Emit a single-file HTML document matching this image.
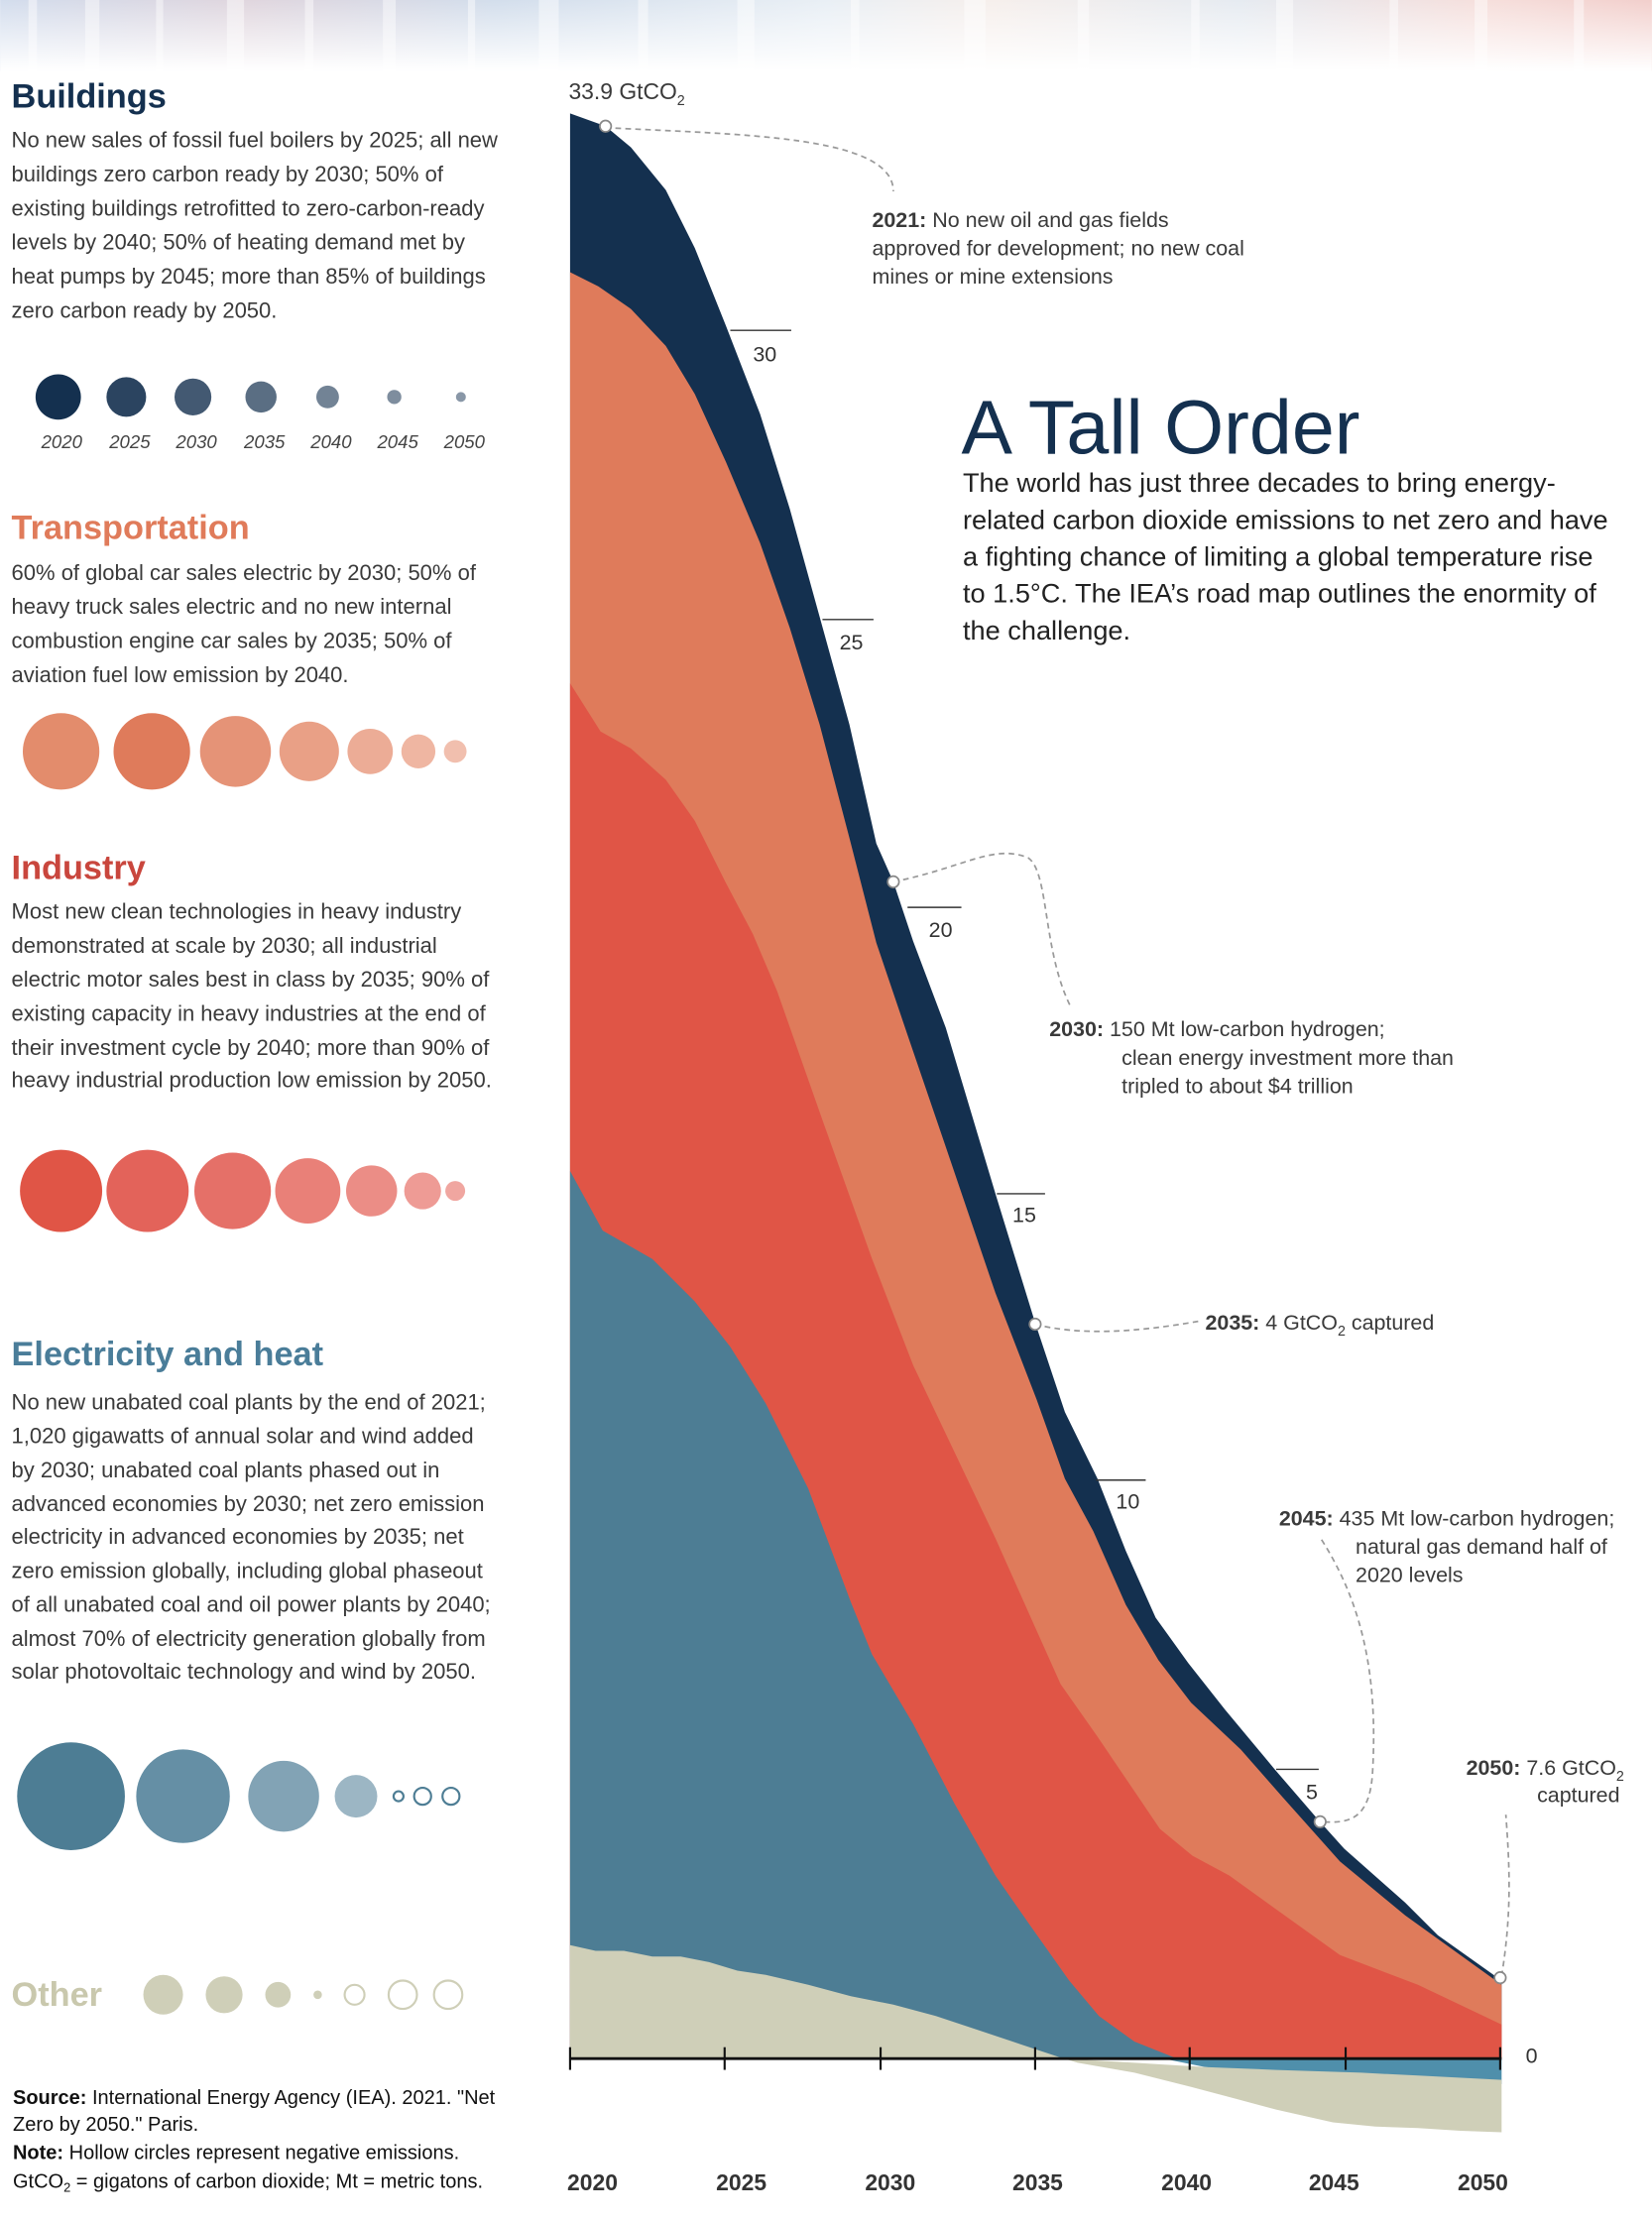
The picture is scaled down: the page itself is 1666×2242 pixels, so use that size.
<!DOCTYPE html>
<html><head><meta charset="utf-8"><style>
html,body{margin:0;padding:0;background:#fff;width:1666px;height:2242px;overflow:hidden}
svg{display:block}
text{font-family:"Liberation Sans",sans-serif;fill:#3a3a3a}
.b{font-size:15.4px}
.h{font-size:24px;font-weight:bold}
.yr{font-size:16px;font-weight:bold;fill:#333}
.ax{font-size:15px;fill:#333}
.it{font-size:13px;font-style:italic;fill:#444}
.an{font-size:15px;fill:#3a3a3a}
</style></head><body>
<svg width="1666" height="2242" viewBox="0 0 1165 1568" xmlns="http://www.w3.org/2000/svg">
<defs>
<linearGradient id="hz" x1="0" x2="1" y1="0" y2="0">
<stop offset="0" stop-color="#d3dded"/><stop offset="0.15" stop-color="#e0d6de"/><stop offset="0.3" stop-color="#d3deec"/><stop offset="0.5" stop-color="#e9eff5"/><stop offset="0.6" stop-color="#f6efec"/><stop offset="0.75" stop-color="#e6ebf1"/><stop offset="0.9" stop-color="#f6dfdc"/><stop offset="1" stop-color="#f2cfcc"/>
</linearGradient>
<linearGradient id="vf" x1="0" x2="0" y1="0" y2="1"><stop offset="0" stop-color="#fff" stop-opacity="0"/><stop offset="1" stop-color="#fff" stop-opacity="1"/></linearGradient>
</defs>
<rect x="0" y="0" width="1165" height="50" fill="url(#hz)"/>
<g fill="#fff" opacity="0.45">
<rect x="20" y="0" width="6" height="50"/><rect x="60" y="0" width="10" height="50"/><rect x="110" y="0" width="5" height="50"/><rect x="160" y="0" width="12" height="50"/><rect x="215" y="0" width="6" height="50"/><rect x="270" y="0" width="9" height="50"/><rect x="330" y="0" width="5" height="50"/><rect x="380" y="0" width="14" height="50"/><rect x="450" y="0" width="7" height="50"/><rect x="520" y="0" width="12" height="50"/><rect x="600" y="0" width="6" height="50"/><rect x="680" y="0" width="15" height="50"/><rect x="760" y="0" width="8" height="50"/><rect x="840" y="0" width="6" height="50"/><rect x="900" y="0" width="12" height="50"/><rect x="980" y="0" width="6" height="50"/><rect x="1040" y="0" width="9" height="50"/><rect x="1110" y="0" width="7" height="50"/>
</g>
<rect x="0" y="0" width="1165" height="50" fill="url(#vf)"/>

<!-- chart layers -->
<polygon fill="#14304f" points="402,80 427,89 445,104 469.5,134 490,175 512,230 536,292 557,359 578,435 599,511 618,595 630,622 644,664 667,725 702,842 730,933 751,996 774,1043 794,1094 815,1141 838,1173 864,1206 899,1248 930,1284 948,1304 991,1342 1014,1365 1059,1397 1059,1452 402,1452"/>
<polygon fill="#df7b5b" points="402,192 422,202 445,218 469.5,244 490,278 512,326 536,383 557,443 578,511 599,591 618,665 640,730 667,809 702,912 731,987 751,1043 771,1080 794,1132 817,1171 840,1201 875,1234 904,1267 945,1313 991,1351 1059,1400 1059,1452 402,1452"/>
<polygon fill="#e05546" points="402,482 423.5,516 445,528 469.5,550 490,579 512,623 531,659 548,699 580,790 615,888 644,963 673,1024 702,1085 731,1150 748,1188 774,1225 818,1290 841,1309 867,1323 899,1346 945,1379 1000,1400 1059,1428 1059,1452 402,1452"/>
<polygon fill="#4d7d94" points="402,826 425,868 460,888 490,918 515,950 540,990 570,1050 600,1130 615,1167 644,1216 673,1272 702,1323 725,1356 754,1397 775,1422 800,1440 830,1452 402,1452"/>
<polygon fill="#4f8fab" points="820,1452 1059,1452 1059,1470 960,1465 900,1462 850,1458"/>
<polygon fill="#cfcfb8" points="402,1372 420,1376 440,1376 460,1380 480,1380 500,1384 520,1390 540,1393 570,1400 600,1408 630,1414 660,1422 690,1432 720,1442 750,1452 800,1455 850,1458 900,1460 960,1462 1000,1464 1059,1467 1059,1504 1030,1503 1000,1501 970,1500 940,1497 900,1488 870,1480 840,1472 800,1462 760,1455 750,1452 402,1452"/>

<!-- axis -->
<line x1="402" y1="1452" x2="1059" y2="1452" stroke="#111" stroke-width="2"/>
<g stroke="#111" stroke-width="1.5">
<line x1="402" y1="1444" x2="402" y2="1460"/><line x1="511" y1="1444" x2="511" y2="1460"/><line x1="621" y1="1444" x2="621" y2="1460"/><line x1="730" y1="1444" x2="730" y2="1460"/><line x1="839" y1="1444" x2="839" y2="1460"/><line x1="949" y1="1444" x2="949" y2="1460"/><line x1="1058" y1="1444" x2="1058" y2="1460"/>
</g>
<text class="ax" x="1076" y="1455">0</text>
<text class="yr" x="400" y="1545">2020</text><text class="yr" x="505" y="1545">2025</text><text class="yr" x="610" y="1545">2030</text><text class="yr" x="714" y="1545">2035</text><text class="yr" x="819" y="1545">2040</text><text class="yr" x="923" y="1545">2045</text><text class="yr" x="1028" y="1545">2050</text>

<!-- y ticks -->
<g stroke="#333" stroke-width="1">
<line x1="515" y1="233" x2="558" y2="233"/><line x1="580" y1="437" x2="616" y2="437"/><line x1="640" y1="640" x2="678" y2="640"/><line x1="703" y1="842" x2="737" y2="842"/><line x1="773" y1="1044" x2="808" y2="1044"/><line x1="900" y1="1248" x2="930" y2="1248"/>
</g>
<text class="ax" x="531" y="255">30</text><text class="ax" x="592" y="458">25</text><text class="ax" x="655" y="661">20</text><text class="ax" x="714" y="862">15</text><text class="ax" x="787" y="1064">10</text><text class="ax" x="921" y="1269">5</text>

<text x="401" y="70" style="font-size:16px">33.9 GtCO<tspan style="font-size:10px" dy="4">2</tspan></text>

<!-- annotations -->
<g fill="none" stroke="#999" stroke-dasharray="4,3" stroke-width="1.2">
<path d="M427,90 C520,95 630,95 630,135"/>
<path d="M630,622 C680,612 700,595 725,605 C740,615 735,670 755,710"/>
<path d="M730,934 C760,942 800,940 845,932"/>
<path d="M932,1086 C960,1130 972,1180 968,1250 C966,1285 950,1286 932,1285"/>
<path d="M1059,1394 C1066,1350 1065,1320 1062,1280"/>
</g>
<g fill="#fff" stroke="#888" stroke-width="1.2">
<circle cx="427" cy="89" r="4"/><circle cx="630" cy="622" r="4"/><circle cx="730" cy="934" r="4"/><circle cx="931" cy="1285" r="4"/><circle cx="1058" cy="1395" r="4"/>
</g>
<text class="an" x="615" y="160"><tspan font-weight="bold">2021:</tspan> No new oil and gas fields</text>
<text class="an" x="615" y="180">approved for development; no new coal</text>
<text class="an" x="615" y="200">mines or mine extensions</text>
<text class="an" x="740" y="731"><tspan font-weight="bold">2030:</tspan> 150 Mt low-carbon hydrogen;</text>
<text class="an" x="791" y="751">clean energy investment more than</text>
<text class="an" x="791" y="771">tripled to about $4 trillion</text>
<text class="an" x="850" y="938"><tspan font-weight="bold">2035:</tspan> 4 GtCO<tspan font-size="10" dy="4">2</tspan><tspan dy="-4"> captured</tspan></text>
<text class="an" x="902" y="1076"><tspan font-weight="bold">2045:</tspan> 435 Mt low-carbon hydrogen;</text>
<text class="an" x="956" y="1096">natural gas demand half of</text>
<text class="an" x="956" y="1116">2020 levels</text>
<text class="an" x="1034" y="1252"><tspan font-weight="bold">2050:</tspan> 7.6 GtCO<tspan font-size="10" dy="4">2</tspan></text>
<text class="an" x="1084" y="1271">captured</text>

<!-- title -->
<text x="678" y="320" style="font-size:54px;fill:#14304f">A Tall Order</text>
<text x="679" y="347" style="font-size:19px;fill:#222">The world has just three decades to bring energy-</text>
<text x="679" y="373" style="font-size:19px;fill:#222">related carbon dioxide emissions to net zero and have</text>
<text x="679" y="399" style="font-size:19px;fill:#222">a fighting chance of limiting a global temperature rise</text>
<text x="679" y="425" style="font-size:19px;fill:#222">to 1.5°C. The IEA’s road map outlines the enormity of</text>
<text x="679" y="451" style="font-size:19px;fill:#222">the challenge.</text>

<!-- Buildings -->
<text class="h" x="8" y="76" style="fill:#14304f">Buildings</text>
<text class="b" x="8" y="104">No new sales of fossil fuel boilers by 2025; all new</text>
<text class="b" x="8" y="128">buildings zero carbon ready by 2030; 50% of</text>
<text class="b" x="8" y="152">existing buildings retrofitted to zero-carbon-ready</text>
<text class="b" x="8" y="176">levels by 2040; 50% of heating demand met by</text>
<text class="b" x="8" y="200">heat pumps by 2045; more than 85% of buildings</text>
<text class="b" x="8" y="224">zero carbon ready by 2050.</text>
<g fill="#14304f">
<circle cx="41" cy="280" r="16"/><circle cx="89" cy="280" r="14" opacity="0.9"/><circle cx="136" cy="280" r="13" opacity="0.8"/><circle cx="184" cy="280" r="11" opacity="0.7"/><circle cx="231" cy="280" r="8" opacity="0.6"/><circle cx="278" cy="280" r="5" opacity="0.55"/><circle cx="325" cy="280" r="3.5" opacity="0.5"/>
</g>
<text class="it" x="29" y="316">2020</text><text class="it" x="77" y="316">2025</text><text class="it" x="124" y="316">2030</text><text class="it" x="172" y="316">2035</text><text class="it" x="219" y="316">2040</text><text class="it" x="266" y="316">2045</text><text class="it" x="313" y="316">2050</text>

<!-- Transportation -->
<text class="h" x="8" y="380" style="fill:#e07b5a">Transportation</text>
<text class="b" x="8" y="409">60% of global car sales electric by 2030; 50% of</text>
<text class="b" x="8" y="433">heavy truck sales electric and no new internal</text>
<text class="b" x="8" y="457">combustion engine car sales by 2035; 50% of</text>
<text class="b" x="8" y="481">aviation fuel low emission by 2040.</text>
<circle cx="43" cy="530" r="27" fill="#e38c6c"/><circle cx="107" cy="530" r="27" fill="#df7b5b"/><circle cx="166" cy="530" r="25" fill="#e59377"/><circle cx="218" cy="530" r="21" fill="#e9a086"/><circle cx="261" cy="530" r="16" fill="#ecac96"/><circle cx="295" cy="530" r="12" fill="#efb6a2"/><circle cx="321" cy="530" r="8" fill="#f1bfae"/>

<!-- Industry -->
<text class="h" x="8" y="620" style="fill:#c9463d">Industry</text>
<text class="b" x="8" y="648">Most new clean technologies in heavy industry</text>
<text class="b" x="8" y="672">demonstrated at scale by 2030; all industrial</text>
<text class="b" x="8" y="696">electric motor sales best in class by 2035; 90% of</text>
<text class="b" x="8" y="720">existing capacity in heavy industries at the end of</text>
<text class="b" x="8" y="744">their investment cycle by 2040; more than 90% of</text>
<text class="b" x="8" y="767">heavy industrial production low emission by 2050.</text>
<circle cx="43" cy="840" r="29" fill="#e05546"/><circle cx="104" cy="840" r="29" fill="#e3635a"/><circle cx="164" cy="840" r="27" fill="#e57068"/><circle cx="217" cy="840" r="23" fill="#e98078"/><circle cx="262" cy="840" r="18" fill="#eb8d86"/><circle cx="298" cy="840" r="13" fill="#ee9b95"/><circle cx="321" cy="840" r="7" fill="#f0a6a0"/>

<!-- Electricity -->
<text class="h" x="8" y="963" style="fill:#4a7d99">Electricity and heat</text>
<text class="b" x="8" y="994">No new unabated coal plants by the end of 2021;</text>
<text class="b" x="8" y="1018">1,020 gigawatts of annual solar and wind added</text>
<text class="b" x="8" y="1042">by 2030; unabated coal plants phased out in</text>
<text class="b" x="8" y="1066">advanced economies by 2030; net zero emission</text>
<text class="b" x="8" y="1089">electricity in advanced economies by 2035; net</text>
<text class="b" x="8" y="1113">zero emission  globally, including global phaseout</text>
<text class="b" x="8" y="1137">of all unabated coal and oil power plants by 2040;</text>
<text class="b" x="8" y="1161">almost 70% of electricity generation globally from</text>
<text class="b" x="8" y="1184">solar photovoltaic technology and wind by 2050.</text>
<circle cx="50" cy="1267" r="38" fill="#4d7d94"/><circle cx="129" cy="1267" r="33" fill="#658fa5"/><circle cx="200" cy="1267" r="25" fill="#82a3b5"/><circle cx="251" cy="1267" r="15" fill="#9cb6c4"/>
<g fill="none" stroke="#4d7d94" stroke-width="1.5"><circle cx="281" cy="1267" r="3.5"/><circle cx="298" cy="1267" r="6"/><circle cx="318" cy="1267" r="6"/></g>

<!-- Other -->
<text class="h" x="8" y="1415" style="fill:#c9c8ad">Other</text>
<circle cx="115" cy="1407" r="14" fill="#cfcfb8"/><circle cx="158" cy="1407" r="13" fill="#cfcfb8"/><circle cx="196" cy="1407" r="9" fill="#cfcfb8"/><circle cx="224" cy="1407" r="3" fill="#cfcfb8"/>
<g fill="none" stroke="#cfcfb8" stroke-width="1.5"><circle cx="250" cy="1407" r="7"/><circle cx="284" cy="1407" r="10"/><circle cx="316" cy="1407" r="10"/></g>

<!-- Source -->
<text x="9" y="1484" style="font-size:14px;fill:#111"><tspan font-weight="bold">Source:</tspan> International Energy Agency (IEA). 2021. "Net</text>
<text x="9" y="1503" style="font-size:14px;fill:#111">Zero by 2050." Paris.</text>
<text x="9" y="1523" style="font-size:14px;fill:#111"><tspan font-weight="bold">Note:</tspan> Hollow circles represent negative emissions.</text>
<text x="9" y="1543" style="font-size:14px;fill:#111">GtCO<tspan font-size="9" dy="3">2</tspan><tspan dy="-3"> = gigatons of carbon dioxide; Mt = metric tons.</tspan></text>
</svg>
</body></html>
